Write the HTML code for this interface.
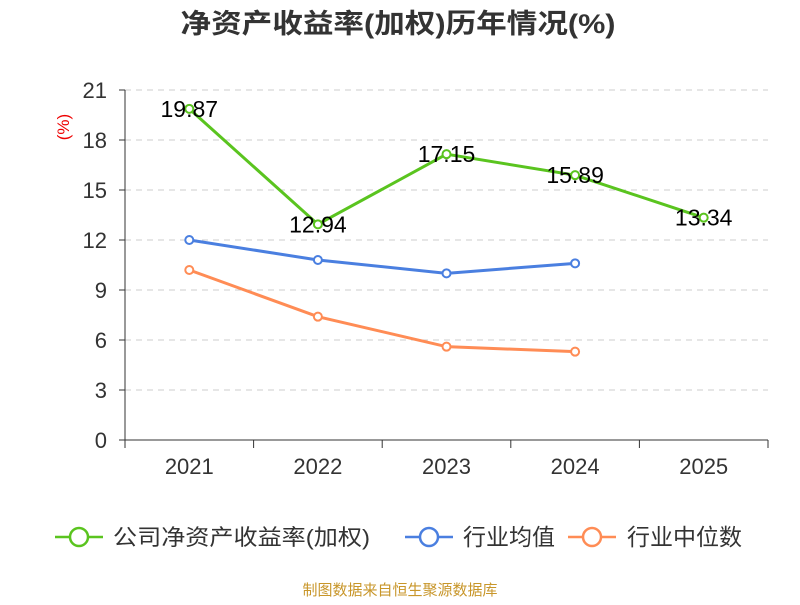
<!DOCTYPE html>
<html><head><meta charset="utf-8"><style>
body{margin:0;background:#fff;}
svg text{font-family:"Liberation Sans","Noto Sans CJK SC",sans-serif;}
</style></head><body>
<svg id="chart" width="800" height="600" viewBox="0 0 800 600">
<text x="398" y="33" text-anchor="middle" font-size="27" font-weight="bold" fill="#333" textLength="435" lengthAdjust="spacingAndGlyphs">净资产收益率(加权)历年情况(%)</text>
<text x="69" y="127" text-anchor="middle" font-size="17" fill="#e00" transform="rotate(-90 69 127)">(%)</text>
<g id="grid"></g><g id="axes"></g><g id="series"></g>
<g>
<g><line x1="55" y1="537" x2="103" y2="537" stroke="#5ac41f" stroke-width="2.5"/><circle cx="79" cy="537" r="9" fill="#fff" stroke="#5ac41f" stroke-width="2.5"/><text x="113" y="545" font-size="22" fill="#333" textLength="257" lengthAdjust="spacingAndGlyphs">公司净资产收益率(加权)</text></g>
<g><line x1="405" y1="537" x2="453" y2="537" stroke="#4a7fe0" stroke-width="2.5"/><circle cx="429" cy="537" r="9" fill="#fff" stroke="#4a7fe0" stroke-width="2.5"/><text x="463" y="545" font-size="23" fill="#333">行业均值</text></g>
<g><line x1="568" y1="537" x2="616" y2="537" stroke="#ff8c55" stroke-width="2.5"/><circle cx="592" cy="537" r="9" fill="#fff" stroke="#ff8c55" stroke-width="2.5"/><text x="627" y="545" font-size="23" fill="#333">行业中位数</text></g>
</g>
<text x="400" y="595" text-anchor="middle" font-size="15" fill="#c8962a">制图数据来自恒生聚源数据库</text>
</svg>
<script>
const categories=["2021","2022","2023","2024","2025"];
const yTicks=[0,3,6,9,12,15,18,21];
const companyValues=[19.87,12.94,17.15,15.89,13.34];
const industryAvg=[12.0,10.8,10.0,10.6];
const industryMedian=[10.2,7.4,5.6,5.3];
const NS="http://www.w3.org/2000/svg";
const x0=125,x1=768,yTop=90,yBot=440,yMax=21;
const bw=(x1-x0)/categories.length;
const xs=i=>x0+bw*(i+0.5);
const ys=v=>yBot-(v/yMax)*(yBot-yTop);
function mk(tag,attrs,parent){const e=document.createElementNS(NS,tag);for(const k in attrs)e.setAttribute(k,attrs[k]);parent.appendChild(e);return e;}
const grid=document.getElementById('grid'),axes=document.getElementById('axes'),series=document.getElementById('series');
yTicks.forEach(t=>{
  const y=ys(t);
  if(t>0){const g=mk('line',{x1:x0,x2:x1,y1:y,y2:y,stroke:'#ccc','stroke-dasharray':'6,5'},grid);
  
  }
  const tk=mk('line',{x1:x0-6,x2:x0,y1:y,y2:y,stroke:'#333'},axes);
  
  
  const tx=mk('text',{x:x0-18,y:y+8,'text-anchor':'end','font-size':22,fill:'#333'},axes);tx.textContent=t;
  
  
});
const ya=mk('line',{x1:x0,x2:x0,y1:yTop,y2:yBot,stroke:'#333'},axes);


const xa=mk('line',{x1:x0,x2:x1,y1:yBot,y2:yBot,stroke:'#333'},axes);


for(let i=0;i<=categories.length;i++){const t=mk('line',{x1:x0+bw*i,x2:x0+bw*i,y1:yBot,y2:yBot+8,stroke:'#333'},axes);

}
categories.forEach((c,i)=>{const t=mk('text',{x:xs(i),y:yBot+34,'text-anchor':'middle','font-size':22,fill:'#333'},axes);t.textContent=c;

});
function draw(vals,color,name,labels){
  const pts=vals.map((v,i)=>xs(i)+','+ys(v)).join(' ');
  const pl=mk('polyline',{points:pts,fill:'none',stroke:color,'stroke-width':3},series);
  
  
  vals.forEach((v,i)=>{const c=mk('circle',{cx:xs(i),cy:ys(v),r:4,fill:'#fff',stroke:color,'stroke-width':2},series);
  
  
  if(labels){const t=mk('text',{x:xs(i),y:ys(v)+8,'text-anchor':'middle','font-size':23,fill:'#000'},series);t.textContent=v.toFixed(2);
  
  }});
}
draw(industryMedian,'#ff8c55','industry-median',false);
draw(industryAvg,'#4a7fe0','industry-avg',false);
draw(companyValues,'#5ac41f','company-roe',true);
</script>
</body></html>
